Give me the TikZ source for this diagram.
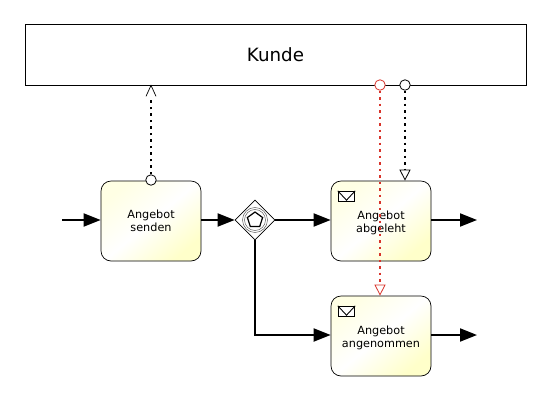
\documentclass[tikz,border=0pt]{standalone}
\usepackage{fontspec}
\setmainfont{DejaVu Sans}
\usetikzlibrary{arrows.meta,shapes.geometric,calc}
\definecolor{taskyellow}{HTML}{FFFFCA}
\definecolor{taskpale}{HTML}{FFFFE4}
\definecolor{msgred}{HTML}{D8332A}
\tikzset{
  taskbox/.style={draw=black, rounded corners=2mm, minimum width=2cm, minimum height=1.6cm,
    inner sep=0pt, align=center, font=\fontsize{6.4}{7.4}\selectfont,
    left color=taskpale, right color=taskyellow, middle color=white, shading angle=40},
  flow/.style={line width=1.1pt, -{Triangle[length=3.4mm, width=2.6mm]}},
  msgflow/.style={line width=1.1pt, dash pattern=on 1.5pt off 2.2pt},
  msgtip/.style={-{Triangle[open, length=2.2mm, width=2.2mm, line width=0.45pt, fill=white]}},
  portdot/.style={circle, draw=black, fill=white, minimum size=2.1mm, inner sep=0pt, line width=0.45pt},
  envbox/.style={draw=black, fill=white, line width=0.5pt, minimum width=3.3mm, minimum height=2.1mm, inner sep=0pt},
  ring/.style={circle, draw=black!70, line width=0.25pt, inner sep=0pt},
}
\begin{document}
\begin{tikzpicture}[x=0.02cm, y=-0.02cm]
  \useasboundingbox (0,0) rectangle (550,400);
  % participant
  \node[draw=black, line width=0.4pt, minimum width=10.02cm, minimum height=1.22cm, font=\fontsize{10.4}{12}\selectfont]
    (kunde) at (275.5,54.5) {Kunde};
  % tasks
  \node[taskbox] (senden) at (151,221) {Angebot\\senden};
  \node[taskbox] (abgelehnt) at (381,221) {\rule{0pt}{2.5mm}Angebot\\abgeleht};
  \node[taskbox] (angenommen) at (381,336) {\rule{0pt}{2.5mm}Angebot\\angenommen};
  % gateway
  \node[diamond, draw=black, fill=white, line width=0.4pt, minimum size=0.8cm, inner sep=0pt] (gw) at (255,220) {};
  \foreach \d in {5, 4.2}
    \node[ring, minimum size=\d mm] at (gw) {};
  \node[regular polygon, regular polygon sides=5, draw=black, line width=0.7pt, minimum size=3.2mm, inner sep=0pt] (penta) at (gw) {};
  % envelopes
  \foreach \name/\ex/\ey in {envA/346.5/196.5, envB/346.5/311.5} {
    \node[envbox] (\name) at (\ex,\ey) {};
    \draw[line width=0.5pt] (\name.north west) -- ($(\name.south)!0.35!(\name.center)$) -- (\name.north east);
  }
  % sequence flows
  \coordinate (start) at (62,220);
  \coordinate (endA) at (477,220);
  \coordinate (endB) at (477,335);
  \draw[flow] (start) -- (start -| senden.west);
  \draw[flow] (senden.east |- gw) -- (gw.west);
  \draw[flow] (gw.east) -- (gw -| abgelehnt.west);
  \draw[flow] (gw.south) -- (endB -| gw) -- (endB -| angenommen.west);
  \draw[flow] (abgelehnt.east |- endA) -- (endA);
  \draw[flow] (angenommen.east |- endB) -- (endB);
  % message flows
  \node[portdot] (portS) at (151,180) {};
  \node[portdot] (portB) at (405,85) {};
  \node[portdot, draw=msgred] (portR) at (380,85) {};
  \draw[msgflow, shorten >=0.24cm] (portS) -- (portS |- kunde.south);
  \draw[line width=0.4pt] ($(portS |- kunde.south)+(-5,11)$) -- (portS |- kunde.south) -- ($(portS |- kunde.south)+(5,11)$);
  \draw[msgflow, msgtip] (portB) -- (portB |- abgelehnt.north);
  \draw[msgflow, msgred, msgtip] (portR) -- (portR |- angenommen.north);
\end{tikzpicture}
\end{document}
